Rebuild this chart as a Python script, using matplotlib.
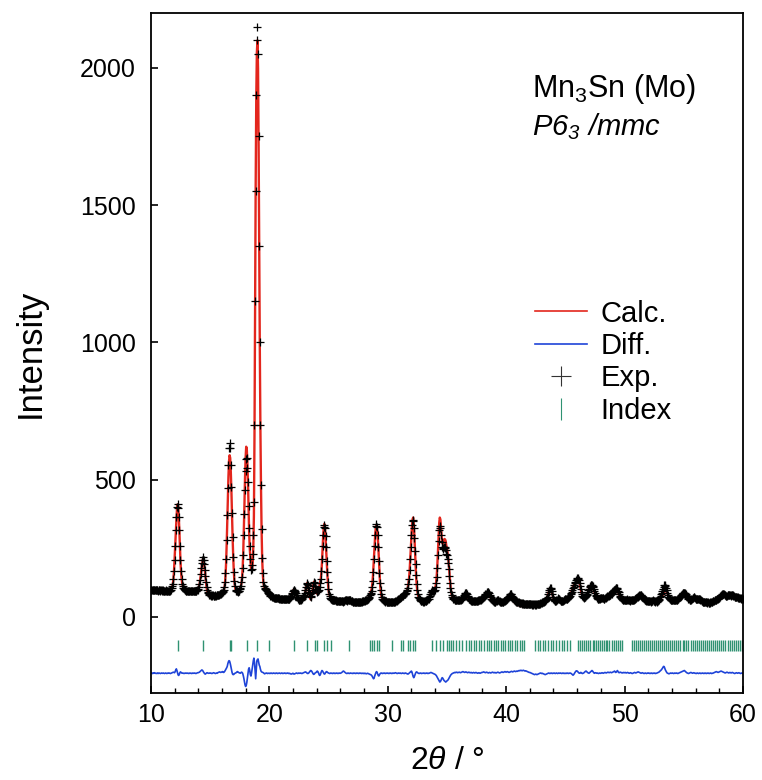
import matplotlib
matplotlib.use("Agg")
import matplotlib.pyplot as plt
from matplotlib.lines import Line2D
from matplotlib.ticker import MultipleLocator
import numpy as np

plt.rcParams['font.family'] = ['Liberation Sans', 'DejaVu Sans']
plt.rcParams['mathtext.fontset'] = 'custom'
plt.rcParams['mathtext.rm'] = 'Liberation Sans'
plt.rcParams['mathtext.it'] = 'Liberation Sans:italic'
plt.rcParams['mathtext.sf'] = 'Liberation Sans:italic'

# 2theta grid: 10.00 .. 60.00, 0.05 deg step, one row per degree
tt_start = 10.0
tt_step = 0.05

# observed intensity (Exp.)
exp_counts = [
    [100, 99, 98, 99, 97, 98, 99, 98, 97, 98, 97, 98, 96, 97, 98, 97, 96, 97, 96, 97],
    [96, 97, 96, 95, 96, 97, 95, 96, 95, 96, 96, 95, 96, 97, 98, 106, 112, 121, 140, 168],
    [209, 260, 317, 364, 399, 412, 398, 363, 316, 260, 208, 167, 139, 120, 111, 105, 101, 98, 97, 96],
    [95, 96, 95, 96, 95, 94, 95, 96, 95, 94, 95, 94, 95, 94, 95, 94, 94, 95, 97, 99],
    [102, 110, 120, 136, 156, 178, 196, 209, 220, 207, 193, 172, 149, 127, 110, 98, 90, 86, 83, 81],
    [80, 79, 78, 79, 78, 79, 78, 77, 78, 79, 78, 79, 80, 79, 80, 81, 82, 83, 84, 86],
    [88, 90, 93, 99, 110, 126, 160, 210, 282, 370, 470, 553, 614, 633, 615, 555, 475, 378, 290, 218],
    [165, 130, 112, 100, 96, 94, 93, 92, 93, 95, 103, 107, 114, 127, 144, 177, 226, 299, 376, 464],
    [532, 575, 578, 541, 490, 405, 325, 260, 210, 170, 175, 190, 230, 300, 420, 700, 1150, 1550, 1900, 2100],
    [2150, 2050, 1750, 1350, 1000, 700, 480, 320, 215, 160, 128, 112, 104, 102, 101, 98, 94, 90, 87, 84],
    [82, 80, 78, 76, 75, 73, 72, 71, 70, 70, 69, 69, 68, 68, 69, 68, 67, 68, 67, 67],
    [66, 67, 66, 65, 66, 65, 65, 64, 65, 64, 65, 64, 64, 65, 64, 68, 71, 77, 83, 89],
    [94, 97, 98, 96, 92, 86, 79, 73, 68, 65, 63, 62, 62, 63, 64, 66, 68, 71, 75, 80],
    [88, 98, 110, 120, 124, 118, 105, 92, 82, 76, 74, 78, 86, 98, 112, 122, 126, 122, 112, 102],
    [95, 92, 93, 96, 100, 110, 122, 140, 167, 210, 258, 298, 328, 336, 325, 294, 253, 204, 162, 127],
    [101, 85, 76, 70, 67, 64, 63, 62, 61, 60, 61, 60, 59, 60, 59, 58, 59, 58, 59, 58],
    [58, 57, 58, 57, 56, 57, 58, 59, 61, 62, 61, 60, 59, 60, 62, 63, 62, 60, 58, 57],
    [57, 56, 55, 56, 55, 56, 55, 54, 55, 56, 55, 54, 55, 56, 55, 56, 57, 56, 57, 58],
    [58, 59, 60, 61, 62, 63, 65, 67, 70, 74, 79, 84, 88, 95, 109, 130, 165, 210, 260, 300],
    [330, 339, 327, 297, 255, 204, 160, 123, 98, 82, 72, 66, 62, 60, 58, 57, 56, 57, 56, 55],
    [56, 55, 54, 55, 56, 55, 54, 55, 54, 55, 56, 55, 56, 57, 58, 59, 60, 62, 64, 66],
    [68, 70, 72, 74, 76, 78, 80, 82, 83, 84, 85, 86, 94, 98, 105, 120, 140, 170, 210, 255],
    [300, 335, 352, 350, 325, 286, 240, 193, 152, 120, 97, 82, 74, 68, 64, 61, 59, 58, 57, 57],
    [56, 57, 56, 57, 58, 59, 60, 62, 64, 67, 71, 76, 83, 90, 96, 98, 96, 94, 93, 95],
    [100, 108, 122, 145, 180, 225, 275, 315, 330, 325, 300, 272, 255, 248, 250, 254, 256, 252, 244, 230],
    [225, 210, 195, 175, 150, 125, 105, 90, 80, 73, 69, 66, 64, 63, 62, 62, 61, 62, 61, 62],
    [62, 61, 62, 63, 64, 65, 67, 70, 74, 79, 83, 86, 87, 86, 82, 77, 72, 67, 64, 62],
    [60, 59, 58, 59, 58, 57, 58, 57, 58, 59, 58, 59, 60, 59, 60, 61, 62, 63, 65, 67],
    [68, 70, 73, 76, 79, 82, 85, 88, 91, 92, 90, 86, 81, 76, 71, 66, 62, 60, 58, 57],
    [56, 55, 56, 57, 59, 61, 62, 61, 59, 57, 56, 55, 56, 55, 56, 56, 57, 58, 59, 60],
    [62, 64, 67, 70, 74, 78, 81, 83, 84, 82, 78, 73, 68, 64, 61, 59, 57, 56, 55, 54],
    [54, 53, 52, 51, 50, 51, 50, 49, 50, 49, 48, 49, 48, 47, 48, 47, 48, 47, 46, 47],
    [47, 46, 47, 46, 45, 46, 45, 46, 45, 46, 45, 46, 47, 46, 47, 48, 47, 49, 50, 52],
    [52, 53, 54, 55, 56, 57, 59, 61, 64, 68, 74, 82, 91, 99, 104, 105, 101, 93, 83, 74],
    [67, 62, 59, 57, 58, 60, 63, 66, 68, 67, 64, 61, 59, 58, 57, 58, 59, 60, 62, 64],
    [65, 66, 67, 67, 68, 69, 71, 74, 78, 82, 87, 92, 98, 104, 110, 116, 122, 128, 133, 138],
    [141, 142, 139, 133, 124, 113, 102, 92, 84, 78, 74, 72, 70, 71, 73, 76, 80, 85, 91, 97],
    [103, 108, 112, 115, 117, 116, 113, 108, 101, 93, 86, 80, 75, 71, 68, 66, 65, 65, 66, 68],
    [69, 70, 70, 69, 68, 67, 67, 68, 70, 72, 74, 76, 77, 78, 79, 80, 81, 83, 85, 87],
    [90, 94, 97, 100, 102, 104, 105, 104, 101, 96, 90, 84, 78, 73, 69, 66, 64, 63, 62, 62],
    [61, 60, 61, 62, 63, 64, 63, 62, 61, 60, 59, 60, 61, 60, 61, 62, 63, 64, 66, 68],
    [70, 72, 74, 76, 78, 79, 80, 80, 79, 77, 74, 71, 68, 65, 63, 61, 60, 59, 59, 58],
    [58, 57, 58, 57, 56, 57, 58, 59, 60, 59, 58, 57, 56, 57, 56, 57, 58, 60, 63, 67],
    [71, 76, 82, 88, 95, 103, 110, 115, 117, 114, 107, 98, 89, 81, 74, 69, 66, 64, 63, 62],
    [62, 61, 62, 61, 60, 61, 60, 61, 62, 63, 64, 66, 68, 71, 74, 77, 80, 83, 86, 88],
    [89, 88, 86, 83, 80, 76, 72, 69, 66, 64, 63, 62, 63, 64, 66, 68, 70, 72, 71, 69],
    [67, 65, 64, 65, 66, 67, 66, 64, 62, 60, 58, 57, 56, 55, 54, 55, 54, 53, 54, 53],
    [52, 53, 52, 51, 52, 53, 54, 55, 56, 57, 58, 59, 60, 61, 62, 63, 64, 65, 66, 68],
    [70, 73, 76, 79, 81, 83, 84, 84, 83, 81, 79, 78, 77, 78, 79, 80, 81, 80, 79, 78],
    [79, 80, 81, 80, 78, 76, 74, 73, 72, 73, 72, 71, 70, 69, 68, 69, 68, 67, 68, 67],
    [66],
]

# obs - calc (Diff.)
diff_counts = [
    [0, 1, 0, -1, 1, 0, 2, 1, 0, -1, 0, 1, -1, 0, 1, 0, -1, 0, 1, 0],
    [0, 1, 0, -1, 0, 1, 0, -1, 0, 1, 0, 1, 0, -1, 0, 1, 2, 3, 4, 3],
    [2, 6, 12, 16, 10, 2, -6, -8, -4, 2, 5, 3, 1, 0, 1, 0, -1, 0, 1, 0],
    [0, 1, 0, 0, -1, 0, 1, 0, 0, -1, 0, 1, 0, 0, 1, 0, -1, 0, 1, 2],
    [2, 3, 4, 6, 8, 10, 12, 11, 8, 4, 1, -2, -3, -1, 1, 2, 1, 0, 0, 1],
    [0, 1, 0, -1, 0, 1, 2, 1, 0, -1, 0, 1, 0, 2, 3, 4, 5, 4, 3, 4],
    [5, 6, 4, 3, 5, 8, 12, 16, 20, 25, 35, 42, 46, 44, 36, 26, 14, 4, -3, -5],
    [-4, -2, 0, 1, 2, 4, 6, 5, 3, 2, 1, 0, 2, 4, 3, 0, -8, -18, -30, -42],
    [-48, -45, -34, -18, 0, 15, 20, 10, -5, -10, 0, 15, 30, 45, 55, 40, 10, -20, 10, 45],
    [50, 52, 40, 30, 25, 15, 8, 5, 4, 3, 2, 0, -2, -1, 0, 1, 0, -1, 0, 0],
    [0, -1, 0, 1, 0, -1, 0, 1, 0, 0, -1, 0, 1, 0, -1, 0, 0, 1, 0, -1],
    [0, 1, 0, -1, 0, 0, 1, 0, -1, 0, 0, 1, 0, -1, 0, -1, -2, -3, -2, -1],
    [0, -2, -3, -2, -1, 0, 1, 0, -1, 0, 1, 0, 0, 1, 0, -1, 0, 1, 2, 3],
    [4, 5, 4, 2, 0, -1, 0, 2, 5, 8, 10, 9, 6, 2, -2, -4, -3, 0, 2, 3],
    [5, 8, 6, 2, -4, -8, -6, 0, 6, 10, 8, 4, 0, -3, -2, 2, 5, 6, 4, 2],
    [1, 0, -1, 0, 1, 0, 0, -1, 0, 1, 0, -1, 0, 0, 1, 0, -1, 0, 1, 0],
    [0, 1, 2, 4, 6, 8, 7, 5, 3, 1, 0, -1, 0, 1, 0, -1, 0, 1, 0, 0],
    [0, -1, 0, 1, 0, 0, -1, 0, 1, 0, 0, -1, 0, 1, 0, 0, -1, 0, 0, -1],
    [0, -1, 0, -1, -2, -1, 0, -1, -2, -3, -4, -5, -6, -8, -12, -16, -20, -18, -10, -4],
    [2, 6, 4, -2, -8, -10, -6, -2, 0, 1, 0, -1, 0, 0, 1, 0, -1, 0, 0, 1],
    [0, 0, -1, 0, 1, 0, 0, -1, 0, 1, 0, 0, 1, 2, 1, 0, -1, 0, 1, 0],
    [0, 1, 0, -1, 0, 1, 0, 0, -1, 0, 1, 0, -1, -2, -3, -2, 0, 2, 4, 6],
    [8, 4, -4, -12, -16, -12, -6, 0, 4, 5, 3, 1, 0, -1, 0, 1, 0, -1, 0, 0],
    [0, 1, 0, -1, 0, 0, 1, 0, -1, 0, 0, 1, 2, 3, 2, 1, 0, -1, -2, -3],
    [-4, -6, -8, -12, -16, -20, -24, -28, -32, -30, -26, -20, -16, -18, -22, -26, -28, -30, -32, -30],
    [-28, -26, -24, -20, -16, -12, -8, -5, -3, -1, 0, 1, 2, 3, 2, 3, 4, 3, 2, 3],
    [3, 4, 3, 2, 3, 4, 5, 6, 5, 4, 3, 4, 5, 4, 3, 2, 3, 4, 3, 2],
    [2, 3, 2, 1, 2, 3, 2, 1, 2, 3, 2, 1, 0, 1, 2, 1, 0, 1, 2, 3],
    [3, 4, 5, 4, 3, 2, 3, 4, 3, 2, 1, 2, 3, 2, 1, 2, 3, 4, 3, 2],
    [2, 3, 2, 1, 2, 3, 4, 3, 2, 1, 2, 3, 4, 5, 4, 3, 4, 5, 6, 5],
    [4, 5, 6, 5, 4, 3, 4, 5, 6, 7, 6, 5, 6, 7, 8, 7, 6, 7, 8, 7],
    [8, 9, 10, 9, 10, 11, 10, 9, 10, 11, 10, 9, 8, 9, 8, 7, 6, 5, 4, 3],
    [3, 2, 1, 0, -1, -2, -3, -4, -5, -4, -3, -4, -5, -4, -3, -2, -1, 0, 1, 0],
    [-1, 0, -1, -2, -3, -4, -5, -4, -3, -2, -1, 0, 1, 0, -1, 0, 1, 0, -1, 0],
    [0, 1, 0, -1, 0, 1, 0, -1, 0, 1, 0, 0, 1, 0, -1, 0, 1, 0, -1, 0],
    [0, -1, 0, 1, 0, -1, 0, 0, 1, 0, -1, -3, -5, -7, -5, -2, 2, 5, 8, 9],
    [8, 6, 3, 1, 0, 1, 3, 2, 0, -1, 0, 1, 3, 5, 7, 8, 6, 4, 2, 1],
    [0, 2, 4, 6, 8, 10, 8, 5, 2, 0, 1, 2, 1, 0, 1, 0, -1, 0, 1, 0],
    [0, 1, 2, 1, 0, 1, 2, 3, 2, 1, 2, 3, 4, 3, 2, 3, 4, 3, 2, 3],
    [4, 5, 6, 8, 6, 3, 4, 7, 10, 6, 3, 2, 3, 4, 3, 2, 1, 2, 3, 2],
    [2, 3, 2, 1, 2, 3, 2, 1, 0, 1, 2, 1, 0, -1, 0, 1, 2, 3, 2, 1],
    [2, 3, 4, 5, 4, 3, 2, 1, 0, 1, 2, 1, 0, -1, 0, 1, 0, -1, 0, 1],
    [0, 1, 0, -1, 0, 1, 0, -1, 0, 0, 1, 0, -1, 0, 0, 1, 2, 3, 4, 6],
    [8, 10, 12, 15, 18, 22, 25, 24, 18, 12, 8, 4, 1, 0, -1, -2, -1, 0, 1, 0],
    [0, 1, 0, -1, 0, 1, 0, 0, 1, 0, -1, 0, 1, 2, 3, 4, 5, 6, 7, 8],
    [9, 10, 8, 6, 4, 2, 1, 0, -1, 0, 1, 2, 3, 2, 1, 0, 1, 2, 1, 0],
    [0, -1, 0, 1, 0, -1, 0, 1, 0, -1, 0, 0, 1, 0, -1, 0, 1, 0, -1, 0],
    [0, 1, 0, -1, 0, 1, 0, -1, 0, 0, 1, 2, 3, 4, 5, 6, 5, 4, 3, 4],
    [5, 6, 7, 8, 7, 6, 5, 4, 3, 2, 1, 2, 3, 4, 3, 2, 1, 2, 3, 2],
    [1, 2, 3, 2, 1, 0, -1, 0, 1, 2, 1, 0, 1, 2, 1, 0, -1, 0, 1, 0],
    [0],
]

# reflection positions (Index)
index_pos = [
    12.25, 14.41, 16.65, 16.80, 18.08, 18.98, 19.99, 22.12, 23.18, 23.90, 24.05,
    24.64, 24.88, 25.17, 26.75, 28.52, 28.70, 28.88, 29.07, 29.25, 30.33, 31.10,
    31.30, 31.68, 31.87, 32.10, 32.30, 33.72, 34.07, 34.42, 34.70, 34.97,
    35.15, 35.35, 35.55, 35.80, 36.05, 36.25,
    36.62, 36.85, 37.05, 37.30, 37.48, 37.70, 37.88, 38.10, 38.35, 38.52, 38.70,
    38.95, 39.12, 39.30, 39.55, 39.75, 39.92, 40.15, 40.32, 40.50, 40.72, 40.90,
    41.15, 41.35, 41.55,
    42.45, 42.68, 42.90, 43.10, 43.30, 43.55, 43.78, 44.00, 44.22, 44.45, 44.70,
    44.92, 45.15, 45.38,
    46.08, 46.25, 46.42, 46.60, 46.78, 46.95, 47.12, 47.30, 47.45, 47.62, 47.78,
    47.92, 48.08, 48.25, 48.40, 48.55, 48.72, 48.90, 49.08, 49.25, 49.42, 49.60,
    49.80,
    50.62, 50.80, 50.98, 51.15, 51.32, 51.50, 51.65, 51.82, 52.00, 52.18, 52.35,
    52.50, 52.68, 52.85, 53.00, 53.18, 53.35, 53.52, 53.68, 53.85, 54.02, 54.20,
    54.38, 54.55, 54.72, 54.90, 55.05, 55.22, 55.40, 55.58, 55.75, 55.92, 56.10,
    56.28, 56.45, 56.62, 56.80, 56.95, 57.12, 57.30, 57.48, 57.65, 57.82, 58.00,
    58.18, 58.35, 58.52, 58.70, 58.88, 59.05, 59.22, 59.40, 59.58, 59.75, 59.92,
]

diff_offset = -205
index_lo, index_hi = -123, -84

obs = np.concatenate([np.asarray(r, float) for r in exp_counts])
diff = np.concatenate([np.asarray(r, float) for r in diff_counts])
n = min(len(obs), len(diff))
obs, diff = obs[:n], diff[:n]
tt = tt_start + tt_step * np.arange(n)
calc = obs - diff

c_calc = '#e3261d'
c_diff = '#1f44d8'
c_index = '#2f9272'

fig = plt.figure(figsize=(7.62, 7.8), dpi=100)
ax = fig.add_axes([0.198, 0.1115, 0.777, 0.872])

ax.plot(tt, calc, color=c_calc, lw=1.7, zorder=2)
ax.plot(tt, diff + diff_offset, color=c_diff, lw=1.2, zorder=2)
ax.plot(tt, obs, ls='none', marker='+', ms=6, mew=0.9, color='black', zorder=3)
ax.vlines(index_pos, index_lo, index_hi, color=c_index, lw=1.0, zorder=2)

ax.set_xlim(10, 60)
ax.set_ylim(-277, 2200)
ax.set_xticks([10, 20, 30, 40, 50, 60])
ax.xaxis.set_minor_locator(MultipleLocator(2))
ax.set_yticks([0, 500, 1000, 1500, 2000])
ax.tick_params(which='both', direction='in', top=False, right=False)
ax.tick_params(axis='x', which='major', length=5, width=1.2, pad=7, labelsize=18)
ax.tick_params(axis='x', which='minor', length=3.5, width=1.0)
ax.tick_params(axis='y', which='major', length=5, width=1.2, pad=11, labelsize=18)
for s in ax.spines.values():
    s.set_linewidth(1.3)

ax.set_xlabel(r'$\mathrm{2}\theta$ / °', fontsize=23, labelpad=14)
ax.set_ylabel('Intensity', fontsize=25, labelpad=24)

ax.text(0.644, 0.888, r'Mn$_3$Sn (Mo)', transform=ax.transAxes, fontsize=22,
        va='center', ha='left')
ax.text(0.644, 0.833, r'$\mathsf{P6_3\ /mmc}$', transform=ax.transAxes, fontsize=21,
        va='center', ha='left')

handles = [
    Line2D([], [], color=c_calc, lw=1.2),
    Line2D([], [], color=c_diff, lw=1.2),
    Line2D([], [], ls='none', marker='+', ms=14, mew=0.8, color='#333333'),
    Line2D([], [], ls='none', marker='|', ms=16, mew=0.8, color=c_index),
]
ax.legend(handles, ['Calc.', 'Diff.', 'Exp.', 'Index'], loc='upper left',
          bbox_to_anchor=(0.604, 0.617), frameon=False, fontsize=21,
          handlelength=1.8, handletextpad=0.45, labelspacing=0.15)

fig.savefig('out.png', dpi=100)
